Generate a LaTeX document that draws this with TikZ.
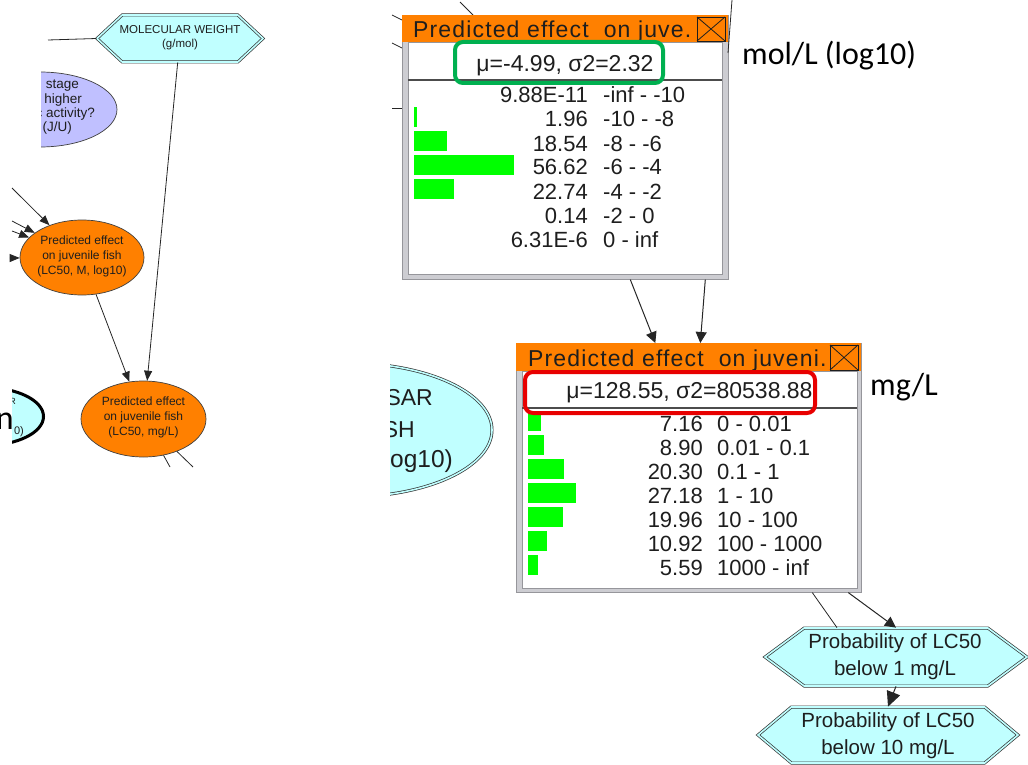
\documentclass[tikz,border=0pt]{standalone}
\usepackage{fontspec}
\setmainfont{Liberation Sans}
\newfontfamily\slidefont{Carlito}
\newfontfamily\titlefont[LetterSpace=5]{Liberation Sans}
\usetikzlibrary{shapes.geometric,shapes.symbols,arrows.meta}

\definecolor{netorange}{RGB}{255,128,0}
\definecolor{netcyan}{RGB}{192,255,255}
\definecolor{netlilac}{RGB}{192,192,255}
\definecolor{bargreen}{RGB}{0,255,0}
\definecolor{boxgreen}{RGB}{0,176,80}
\definecolor{boxred}{RGB}{232,0,0}
\definecolor{framegray}{RGB}{205,205,210}
\definecolor{edgegray}{RGB}{150,150,155}
\definecolor{inkgray}{RGB}{30,30,30}

\tikzset{
  link/.style={draw=black!85, line width=0.8pt},
  arr/.style={link, -{Triangle[length=10pt,width=8pt]}},
  warr/.style={link, line width=1pt, -{Triangle[length=11pt,width=11pt]}},
  bigarr/.style={link, line width=1pt, -{Triangle[length=15pt,width=14pt]}},
  orangeblob/.style={ellipse, draw=black!75, line width=0.7pt, fill=netorange, inner sep=0pt},
  hexbox/.style={signal, signal to=west and east, draw=black!80, line width=0.7pt,
                 double=netcyan, double distance=1.6pt, fill=netcyan, inner sep=0pt},
  smalltxt/.style={inner sep=0pt, align=center, text=inkgray},
  winframe/.style={draw=edgegray, fill=framegray, line width=0.6pt, inner sep=0pt, anchor=north west},
  bar/.style={fill=bargreen},
  valtxt/.style={anchor=base east, inner sep=0pt, font=\fontsize{22}{24}\selectfont, text=inkgray},
  rangetxt/.style={anchor=base west, inner sep=0pt, font=\fontsize{22}{24}\selectfont, text=inkgray},
  meantxt/.style={anchor=base, inner sep=0pt, font=\fontsize{23}{26}\selectfont, text=inkgray},
  titletxt/.style={anchor=base west, inner sep=0pt, font=\titlefont\fontsize{23}{26}\selectfont, text=inkgray},
  qsartxt/.style={anchor=base east, inner sep=0pt, font=\fontsize{23}{25}\selectfont, text=inkgray},
  hilite/.style={rounded corners=8pt, line width=4pt},
  slidetxt/.style={anchor=base west, inner sep=0pt, font=\slidefont\fontsize{32}{36}\selectfont},
  closebox/.style={draw=inkgray, line width=0.8pt},
}

\begin{document}
\begin{tikzpicture}[x=1pt,y=-1pt]
\useasboundingbox (0,0) rectangle (1028,765);

% ================= left panel: network overview =================
% life-stage question node (cut by the panel edge)
\begin{scope}
  \clip (41,60) rectangle (140,160);
  \node[ellipse, draw=black!75, line width=0.7pt, fill=netlilac, inner sep=0pt,
        minimum width=154pt, minimum height=75pt] (lav) at (40,109.5) {};
  \node[smalltxt, anchor=east, font=\fontsize{13.5}{14}\selectfont] (lav1) at (79,86) {stage};
  \node[smalltxt, anchor=east, font=\fontsize{13.5}{14}\selectfont] (lav2) at (82,100) {higher};
  \node[smalltxt, anchor=east, font=\fontsize{13.5}{14}\selectfont] (lav3) at (95,114) {c activity?};
  \node[smalltxt, anchor=east, font=\fontsize{13.5}{14}\selectfont] (lav4) at (72,128) {(J/U)};
\end{scope}

% molecular weight
\node[hexbox, minimum width=166pt, minimum height=47pt, signal pointer angle=86] (mw) at (180,38.5) {};
\node[smalltxt, font=\fontsize{11.5}{14}\selectfont] (mwt) at (180,38) {MOLECULAR WEIGHT\\(g/mol)};

% predicted effect nodes
\node[orangeblob, minimum width=124pt, minimum height=75pt] (o1) at (82,257.5) {};
\node[smalltxt, font=\fontsize{12}{15}\selectfont] (o1t) at (82,256) {Predicted effect\\on juvenile fish\\(LC50, M, log10)};
\node[orangeblob, minimum width=125pt, minimum height=76pt] (o2) at (143.5,419) {};
\node[smalltxt, font=\fontsize{12}{15}\selectfont] (o2t) at (143.5,417) {Predicted effect\\on juvenile fish\\(LC50, mg/L)};

% QSAR node at the panel edge
\begin{scope}
  \clip (12,370) rectangle (60,460);
  \node[ellipse, draw=black, line width=3pt, fill=netcyan, inner sep=0pt,
        minimum width=117pt, minimum height=58pt] (cy1) at (-15,416.5) {};
  \node[smalltxt, anchor=east, font=\fontsize{9}{10}\selectfont] (cy1a) at (16,401) {R};
  \node[smalltxt, anchor=east, font=\fontsize{11}{12}\selectfont] (cy1b) at (24,432) {0)};
\end{scope}
\node[anchor=base east, inner sep=0pt, font=\slidefont\fontsize{34}{40}\selectfont] (bign) at (14,429) {n};

% connectors of the overview
\coordinate (s0) at (48,40);
\coordinate (i1) at (12,188);
\coordinate (i2) at (12,221);
\coordinate (i3) at (12,231);
\coordinate (i4) at (12,258);
\coordinate (e1) at (170,467);
\coordinate (e2) at (193,467);
\draw[link] (s0) -- (mw.west);
\draw[arr] (i1) -- (o1);
\draw[arr] (i2) -- (o1);
\draw[arr] (i3) -- (o1);
\draw[arr] (i4) -- (o1);
\draw[arr] (o1) -- (o2);
\draw[arr] (mw) -- (o2);
\draw[link] (o2) -- (e1);
\draw[link] (o2) -- (e2);

% ================= right panel: monitor windows =================
% QSAR node beside the lower window
\begin{scope}
  \clip (390,340) rectangle (520,520);
  \node[ellipse, draw=black!80, line width=0.7pt, double=netcyan, double distance=1.6pt,
        fill=netcyan, inner sep=0pt, minimum width=288pt, minimum height=134pt] (cy2) at (348,430) {};
  \node[qsartxt] (cy2a) at (433,405) {SAR};
  \node[qsartxt] (cy2b) at (415,437) {SH};
  \node[qsartxt, font=\fontsize{24.5}{26}\selectfont] (cy2c) at (453,467) {og10)};
\end{scope}

% links entering the upper window
\coordinate (u1) at (460,2);
\coordinate (u2) at (392,15);
\coordinate (u3) at (392,43);
\coordinate (u4) at (392,108);
\draw[link] (u1) -- ++(13,13);
\draw[link] (u2) -- ++(10,5);
\draw[link] (u3) -- ++(10,5);
\draw[link] (u4) -- ++(10,0);

% ---- upper window: LC50 in mol/L (log10) ----
\node[winframe, minimum width=326pt, minimum height=264pt] (w1) at (402,15) {};
\fill[white] (408,42) rectangle (722,274);
\draw[edgegray, line width=0.6pt] (408,42) rectangle (722,274);
\fill[netorange] (402,15) rectangle (728,42);
\draw[black!70, line width=1.2pt] (408,80) -- (722,80);
\node[titletxt] (w1title) at (413,38) {Predicted effect\ \ on juve.};
\draw[closebox] (697,17) rectangle (725,41);
\draw[closebox] (697,17) -- (725,41) (697,41) -- (725,17);
\node[meantxt] (w1mean) at (565,72) {μ=-4.99, σ2=2.32};

\fill[bar] (414,107) rectangle (416.5,127);
\fill[bar] (414,131) rectangle (446.7,151);
\fill[bar] (414,155) rectangle (514,175);
\fill[bar] (414,179) rectangle (454.2,199);

\node[valtxt] (a1) at (588,103) {9.88E-11};  \node[rangetxt] (r1) at (603,103) {-inf - -10};
\node[valtxt] (a2) at (588,127) {1.96};      \node[rangetxt] (r2) at (603,127) {-10 - -8};
\node[valtxt] (a3) at (588,151) {18.54};     \node[rangetxt] (r3) at (603,151) {-8 - -6};
\node[valtxt] (a4) at (588,175) {56.62};     \node[rangetxt] (r4) at (603,175) {-6 - -4};
\node[valtxt] (a5) at (588,199) {22.74};     \node[rangetxt] (r5) at (603,199) {-4 - -2};
\node[valtxt] (a6) at (588,223) {0.14};      \node[rangetxt] (r6) at (603,223) {-2 - 0};
\node[valtxt] (a7) at (588,247) {6.31E-6};   \node[rangetxt] (r7) at (603,247) {0 - inf};

\draw[boxgreen, hilite] (455,42) rectangle (663,83);

% link passing the upper window's right edge
\coordinate (u5) at (732,0);
\draw[link] (u5) -- ++(-4,53);

% ---- lower window: LC50 in mg/L ----
\node[winframe, minimum width=345pt, minimum height=249pt] (w2) at (516,343) {};
\fill[white] (522,371) rectangle (857,588);
\draw[edgegray, line width=0.6pt] (522,371) rectangle (857,588);
\fill[netorange] (516,343) rectangle (861,371);
\node[titletxt] (w2title) at (528,366) {Predicted effect\ \ on juveni.};
\draw[closebox] (830,345) rectangle (858,370);
\draw[closebox] (830,345) -- (858,370) (830,370) -- (858,345);

\fill[bar] (528,411) rectangle (540.6,431);
\fill[bar] (528,435) rectangle (543.7,455);
\fill[bar] (528,459) rectangle (563.9,479);
\fill[bar] (528,483) rectangle (576,503);
\fill[bar] (528,507) rectangle (563.2,527);
\fill[bar] (528,531) rectangle (547.3,551);
\fill[bar] (528,555) rectangle (537.9,575);

\node[valtxt] (b1) at (703,431) {7.16};   \node[rangetxt] (q1) at (717,431) {0 - 0.01};
\node[valtxt] (b2) at (703,455) {8.90};   \node[rangetxt] (q2) at (717,455) {0.01 - 0.1};
\node[valtxt] (b3) at (703,479) {20.30};  \node[rangetxt] (q3) at (717,479) {0.1 - 1};
\node[valtxt] (b4) at (703,503) {27.18};  \node[rangetxt] (q4) at (717,503) {1 - 10};
\node[valtxt] (b5) at (703,527) {19.96};  \node[rangetxt] (q5) at (717,527) {10 - 100};
\node[valtxt] (b6) at (703,551) {10.92};  \node[rangetxt] (q6) at (717,551) {100 - 1000};
\node[valtxt] (b7) at (703,575) {5.59};   \node[rangetxt] (q7) at (717,575) {1000 - inf};

% mean row on white, separated from the state rows
\fill[white] (523,372) rectangle (856,407);
\draw[black!70, line width=1.2pt] (522,408) -- (857,408);
\node[meantxt] (w2mean) at (689.5,398) {μ=128.55, σ2=80538.88};
\draw[boxred, hilite] (525,372) rectangle (815,413);

% window-to-window links
\draw[warr] ([xshift=65pt]w1.south) -- ([xshift=-33.5pt]w2.north);
\draw[warr] ([xshift=140pt]w1.south) -- ([xshift=11.5pt]w2.north);

% ---- probability nodes ----
\node[hexbox, minimum width=262pt, minimum height=58pt, signal pointer angle=73] (p1) at (896,657) {};
\node[hexbox, minimum width=260pt, minimum height=56pt, signal pointer angle=80] (p2) at (888,735) {};
\draw[link] ([xshift=123.5pt]w2.south) -- ([xshift=-59pt]p1.north);
\draw[warr] ([xshift=159.5pt]w2.south) -- (p1.north);
\draw[bigarr] (p1.south) -- (p2.north);
\node[smalltxt, font=\fontsize{20.5}{27}\selectfont] (p1t) at (895,656.5) {Probability of LC50\\below 1 mg/L};
\node[smalltxt, font=\fontsize{20.5}{27}\selectfont] (p2t) at (888,736) {Probability of LC50\\below 10 mg/L};

% ---- unit annotations ----
\node[slidetxt] (unit1) at (742,65) {mol/L (log10)};
\node[slidetxt] (unit2) at (870,395) {mg/L};

\end{tikzpicture}
\end{document}
